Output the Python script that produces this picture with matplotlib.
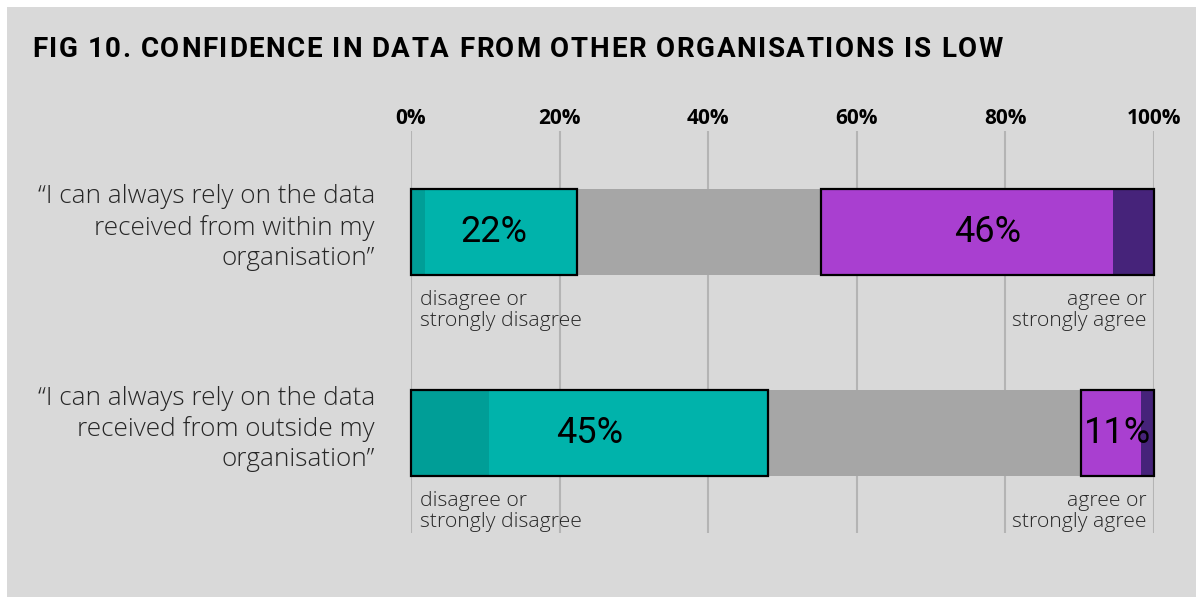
import matplotlib
matplotlib.use("Agg")
import matplotlib.pyplot as plt
from matplotlib.patches import Rectangle
from matplotlib.font_manager import findfont, FontProperties
from matplotlib.ft2font import FT2Font

# ---- data ----
statements = ["\u201cI can always rely on the data\nreceived from within my\norganisation\u201d",
              "\u201cI can always rely on the data\nreceived from outside my\norganisation\u201d"]
strongly_disagree = [1.9, 10.5]
disagree = [20.5, 37.6]
neutral = [32.8, 42.1]
agree = [39.3, 8.0]
strongly_agree = [5.5, 1.8]
disagree_labels = ["22%", "45%"]
agree_labels = ["46%", "11%"]
tick_values = [0, 20, 40, 60, 80, 100]
tick_labels = ["0%", "20%", "40%", "60%", "80%", "100%"]
title = "FIG 10. CONFIDENCE IN DATA FROM OTHER ORGANISATIONS IS LOW"

# ---- style ----
BG = "#d9d9d9"
TEAL_DARK = "#009e97"
TEAL = "#00b3ab"
GREY = "#a6a6a6"
PURPLE = "#a93fd0"
PURPLE_DARK = "#46237a"
GRID = "#b4b4b4"
TXT = "#262626"

W, H = 1196, 597
DPI = 100
fig = plt.figure(figsize=(W / DPI, H / DPI), dpi=DPI, facecolor="white")
fig.patches.append(Rectangle((7 / W, 0), 1 - 7 / W, 1 - 7 / H, transform=fig.transFigure,
                             facecolor=BG, edgecolor="none", zorder=-10))

ax = fig.add_axes([411 / W, (H - 533) / H, 743 / W, 402 / H])
ax.set_facecolor("none")
ax.set_xlim(0, 100)
ax.set_ylim(1.4975, -0.502)
for s in ax.spines.values():
    s.set_visible(False)

ax.xaxis.tick_top()
ax.set_xticks(tick_values)
ax.set_xticklabels(tick_labels, fontfamily="Open Sans", fontweight="bold", fontsize=15, color="black")
ax.tick_params(axis="x", length=0, pad=1.5)
ax.set_yticks([])
ax.grid(axis="x", color=GRID, linewidth=1.5, zorder=0)
ax.set_axisbelow(True)

h = 0.428
ys = list(range(len(statements)))
for i, y in enumerate(ys):
    sd, d, n, a, sa = strongly_disagree[i], disagree[i], neutral[i], agree[i], strongly_agree[i]
    left = 0
    for val, col in [(sd, TEAL_DARK), (d, TEAL), (n, GREY), (a, PURPLE), (sa, PURPLE_DARK)]:
        ax.barh(y, val, left=left, height=h, color=col, edgecolor="none", zorder=2)
        left += val
    # outlines around disagree and agree groups
    ax.barh(y, sd + d, left=0, height=h, fill=False, edgecolor="black", linewidth=1.6, zorder=3, clip_on=False)
    ax.barh(y, a + sa, left=sd + d + n, height=h, fill=False, edgecolor="black", linewidth=1.6, zorder=3, clip_on=False)
    # percentage labels
    ax.text((sd + d) / 2, y, disagree_labels[i], ha="center", va="center", fontsize=26,
            fontfamily="Roboto", color="black", zorder=4)
    ax.text(sd + d + n + (a + sa) / 2, y, agree_labels[i], ha="center", va="center", fontsize=26,
            fontfamily="Roboto", color="black", zorder=4)
    # small labels under bars
    ax.annotate("disagree or\nstrongly disagree", xy=(0, y + h / 2), xytext=(9, -15),
                textcoords="offset pixels", ha="left", va="top", fontsize=15.2,
                fontfamily="Open Sans", fontweight="light", color=TXT, linespacing=1.08)
    ax.annotate("agree or\nstrongly agree", xy=(100, y + h / 2), xytext=(-7, -15),
                textcoords="offset pixels", ha="right", va="top", fontsize=15.2,
                fontfamily="Open Sans", fontweight="light", color=TXT, linespacing=1.08)
    # statement labels
    ax.annotate(statements[i], xy=(0, y), xytext=(-36, 4), textcoords="offset pixels",
                ha="right", va="center", multialignment="right", fontsize=18.8,
                fontfamily="Open Sans", fontweight="light", color=TXT, linespacing=1.28,
                annotation_clip=False)

# ---- letter-spaced title ----
title_size = 20
fp = FontProperties(family="Roboto", weight="bold")
ft = FT2Font(findfont(fp))
ft.set_size(title_size, DPI)
advances = [ft.load_char(ord(c)).linearHoriAdvance / 65536 for c in title]
target_width = 968
spacing = (target_width - sum(advances[:-1]) - advances[-1] * 0.9) / (len(title) - 1)
x_px = 32
for c, adv in zip(title, advances):
    if c != " ":
        fig.text(x_px / W, 1 - 57 / H, c, ha="left", va="baseline", fontsize=title_size,
                 fontfamily="Roboto", fontweight="bold", color="black")
    x_px += adv + spacing

fig.savefig("out.png", dpi=DPI, facecolor="white")
